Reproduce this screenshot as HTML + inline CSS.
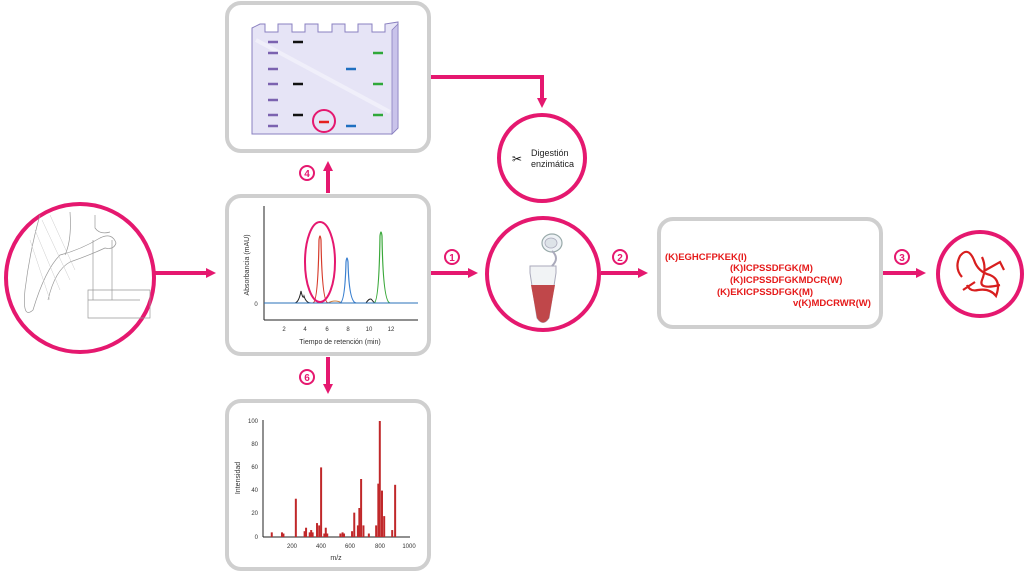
<!DOCTYPE html>
<html><head><meta charset="utf-8"><style>
html,body{margin:0;padding:0;background:#fff;width:1024px;height:572px;overflow:hidden}
svg{display:block}
text{font-family:"Liberation Sans",sans-serif}
</style></head><body>
<svg width="1024" height="572" viewBox="0 0 1024 572" xmlns="http://www.w3.org/2000/svg">
<defs>
<marker id="ah" markerWidth="10" markerHeight="10" refX="6" refY="5" orient="auto" markerUnits="userSpaceOnUse"><path d="M0,0 L10,5 L0,10 z" fill="#e5186f"/></marker>
</defs>
<g stroke="#e5186f" stroke-width="4" fill="none">
<line x1="155" y1="273" x2="212" y2="273" marker-end="url(#ah)"/>
<line x1="431" y1="273" x2="474" y2="273" marker-end="url(#ah)"/>
<line x1="601" y1="273" x2="644" y2="273" marker-end="url(#ah)"/>
<line x1="883" y1="273" x2="922" y2="273" marker-end="url(#ah)"/>
<line x1="328" y1="193" x2="328" y2="165" marker-end="url(#ah)"/>
<line x1="328" y1="357" x2="328" y2="390" marker-end="url(#ah)"/>
<polyline points="431,77 542,77 542,104" marker-end="url(#ah)"/>
</g>
<g font-size="10" font-weight="bold" fill="#e5186f" text-anchor="middle">
<circle cx="452" cy="257" r="7" fill="#fff" stroke="#e5186f" stroke-width="2"/><text x="452" y="261">1</text>
<circle cx="620" cy="257" r="7" fill="#fff" stroke="#e5186f" stroke-width="2"/><text x="620" y="261">2</text>
<circle cx="902" cy="257" r="7" fill="#fff" stroke="#e5186f" stroke-width="2"/><text x="902" y="261">3</text>
<circle cx="307" cy="173" r="7" fill="#fff" stroke="#e5186f" stroke-width="2"/><text x="307" y="177">4</text>
<circle cx="307" cy="377" r="7" fill="#fff" stroke="#e5186f" stroke-width="2"/><text x="307" y="381">6</text>
</g>
<g fill="#fff" stroke="#cfcfcf" stroke-width="4">
<rect x="227" y="3" width="202" height="148" rx="14"/>
<rect x="227" y="196" width="202" height="158" rx="14"/>
<rect x="227" y="401" width="202" height="168" rx="14"/>
<rect x="659" y="219" width="222" height="108" rx="14"/>
</g>
<!-- gel -->
<path d="M252,28 L260,24 L265,24 L265,32 L278,32 L278,24 L287,24 L292,24 L292,32 L305,32 L305,24 L318,24 L318,32 L332,32 L332,24 L345,24 L345,32 L358,32 L358,24 L372,24 L372,32 L385,32 L385,24 L398,22 L398,128 L392,134 L252,134 Z" fill="#e6e4f6" stroke="#8a80c0" stroke-width="1"/>
<path d="M392,30 L398,24 L398,128 L392,134 Z" fill="#c9c3ea" stroke="#8a80c0" stroke-width="0.8"/>
<path d="M256,40 L390,112" stroke="#f3f2fb" stroke-width="4" opacity="0.8"/>
<g stroke-width="2.5">
<g stroke="#7b62b0"><line x1="268" y1="42" x2="278" y2="42"/><line x1="268" y1="53" x2="278" y2="53"/><line x1="268" y1="69" x2="278" y2="69"/><line x1="268" y1="84" x2="278" y2="84"/><line x1="268" y1="100" x2="278" y2="100"/><line x1="268" y1="115" x2="278" y2="115"/><line x1="268" y1="126" x2="278" y2="126"/></g>
<g stroke="#111"><line x1="293" y1="42" x2="303" y2="42"/><line x1="293" y1="84" x2="303" y2="84"/><line x1="293" y1="115" x2="303" y2="115"/></g>
<g stroke="#1f6fc0"><line x1="346" y1="69" x2="356" y2="69"/><line x1="346" y1="126" x2="356" y2="126"/></g>
<g stroke="#2fa83a"><line x1="373" y1="53" x2="383" y2="53"/><line x1="373" y1="84" x2="383" y2="84"/><line x1="373" y1="115" x2="383" y2="115"/></g>
<line x1="319" y1="122" x2="329" y2="122" stroke="#e52020"/>
</g>
<circle cx="324" cy="121" r="11" fill="none" stroke="#e5186f" stroke-width="2"/>
<!-- chromatogram -->
<g stroke="#222" stroke-width="1" fill="none">
<line x1="264" y1="206" x2="264" y2="320"/><line x1="264" y1="320" x2="418" y2="320"/>
</g>
<g font-size="6" fill="#333" text-anchor="middle">
<text x="284" y="331">2</text><text x="305" y="331">4</text><text x="327" y="331">6</text><text x="348" y="331">8</text><text x="369" y="331">10</text><text x="391" y="331">12</text>
<text x="256" y="306">0</text>
<text x="340" y="344" font-size="7">Tiempo de retención (min)</text>
<text transform="translate(249,265) rotate(-90)" font-size="7">Absorbancia (mAU)</text>
</g>
<path d="M295,303 Q299,302 301,291 Q303,300 304,296 Q306,303 311,303" stroke="#222" fill="none" stroke-width="1"/>
<path d="M328,303 Q335,299 342,303" stroke="#d08040" fill="none" stroke-width="1"/>
<path d="M313,303 Q318,302 319,240 Q320,232 321,240 Q322,302 328,303" stroke="#d63a2a" fill="none" stroke-width="1.2"/>
<path d="M340,303 Q345,302 346,262 Q347,254 348,262 Q349,302 356,303" stroke="#3a80d0" fill="none" stroke-width="1.2"/>
<path d="M366,303 Q370,297 372,300 Q374,303 376,303" stroke="#222" fill="none" stroke-width="1"/>
<path d="M374,303 Q379,302 380,236 Q381,228 382,236 Q383,302 390,303" stroke="#3aa83a" fill="none" stroke-width="1.2"/>
<line x1="264" y1="303" x2="418" y2="303" stroke="#2a70b8" stroke-width="1"/>
<ellipse cx="320" cy="262" rx="15" ry="40" fill="none" stroke="#e5186f" stroke-width="2"/>
<!-- mass spec -->
<g stroke="#222" stroke-width="1"><line x1="263" y1="420" x2="263" y2="537"/><line x1="263" y1="537" x2="410" y2="537"/></g>
<g font-size="6" fill="#333" text-anchor="end">
<text x="258" y="423">100</text><text x="258" y="446">80</text><text x="258" y="469">60</text><text x="258" y="492">40</text><text x="258" y="515">20</text><text x="258" y="539">0</text>
</g>
<g font-size="6" fill="#333" text-anchor="middle">
<text x="292" y="548">200</text><text x="321" y="548">400</text><text x="350" y="548">600</text><text x="380" y="548">800</text><text x="409" y="548">1000</text>
<text x="336" y="560" font-size="7">m/z</text>
<text transform="translate(240,478) rotate(-90)" font-size="7">Intensidad</text>
</g>
<g fill="#c0282a" id="bars"></g>
<!-- peptides -->
<g fill="#e51a1a" font-size="9.5" font-weight="bold">
<text x="665" y="260">(K)EGHCFPKEK(I)</text>
<text x="730" y="271">(K)ICPSSDFGK(M)</text>
<text x="730" y="283">(K)ICPSSDFGKMDCR(W)</text>
<text x="717" y="295">(K)EKICPSSDFGK(M)</text>
<text x="793" y="306">v(K)MDCRWR(W)</text>
</g>
<!-- circles -->
<g fill="#fff" stroke="#e5186f" stroke-width="4">
<circle cx="80" cy="278" r="74"/>
<circle cx="542" cy="158" r="43"/>
<circle cx="543" cy="274" r="56"/>
<circle cx="980" cy="274" r="42"/>
</g>
<!-- left illustration -->
<g fill="none" stroke="#999" stroke-width="0.7">
<path d="M40,215 Q30,250 25,290 Q22,320 33,310 Q45,270 60,255 Q80,250 100,238 Q112,232 116,243 Q114,250 105,248 Q90,255 70,262 Q55,270 48,300"/>
<path d="M70,212 Q72,240 65,255"/>
<path d="M93,240 L93,300 M112,240 L112,300 M88,290 L150,290 L150,318 L88,318 Z M88,300 L140,300"/>
<path d="M95,215 L95,228 Q100,235 110,232"/>
</g>
<g stroke="#ccc" stroke-width="0.5" fill="none"><path d="M30,240 L50,300 M35,230 L60,290 M42,220 L70,280 M50,215 L75,270"/></g>
<!-- digestion -->
<text x="531" y="156" font-size="9" fill="#222">Digestión</text>
<text x="531" y="167" font-size="9" fill="#222">enzimática</text>
<text x="512" y="163" font-size="12" fill="#111">✂</text>
<!-- tube -->
<ellipse cx="552" cy="243" rx="10" ry="9" fill="#eef2f6" stroke="#9aa" stroke-width="1.2"/>
<ellipse cx="551" cy="243" rx="6" ry="5" fill="#dde3e8" stroke="#aab" stroke-width="0.8"/>
<path d="M530,266 L556,266 L556,273 L549,318 Q543,327 537,318 L530,273 Z" fill="#f1f3f5" stroke="#aab" stroke-width="1"/>
<path d="M531,285 L555,285 L549,318 Q543,327 537,318 Z" fill="#c0474a"/>
<path d="M552,266 Q560,258 552,251" fill="none" stroke="#aab" stroke-width="2"/>
<!-- protein -->
<g fill="none" stroke="#d81e1e" stroke-width="2.2">
<path d="M962,277 Q954,268 960,256 Q968,246 974,260 Q978,272 990,275 Q1002,280 996,296 Q990,288 978,290 Q970,292 967,285"/>
<path d="M982,257 Q987,268 982,280 Q978,290 1000,285 M984,271 L1000,262 L1004,270 M975,282 L963,290"/>
</g>
</svg>
<script>
var b=[[60,4],[130,4],[140,3],[225,33],[285,5],[295,8],[320,4],[330,6],[340,4],[370,12],[385,10],[398,60],[420,3],[430,8],[440,3],[530,3],[545,4],[555,3],[610,5],[625,21],[650,10],[660,25],[672,50],[688,10],[725,3],[775,10],[790,46],[800,100],[815,40],[830,18],[885,6],[905,45]];
var g=document.getElementById('bars'),s='';
b.forEach(function(p){var x=263+p[0]*0.146,h=p[1]*1.16;s+='<rect x="'+(x-1)+'" y="'+(537-h)+'" width="2" height="'+h+'"/>';});
g.innerHTML=s;
</script>
</body></html>
